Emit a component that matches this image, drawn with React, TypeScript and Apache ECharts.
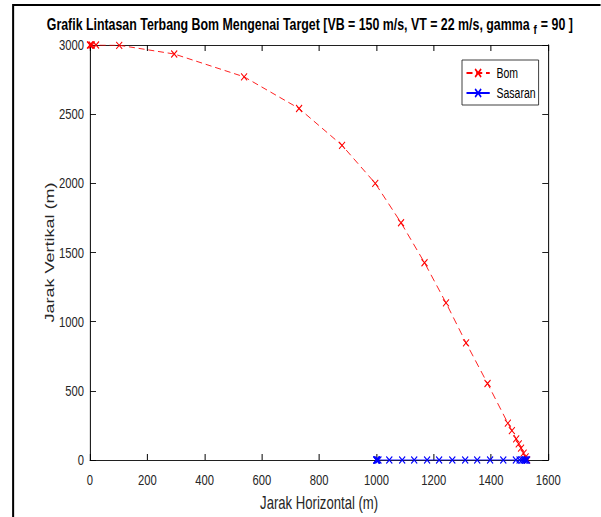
import React, { useEffect, useRef } from "react";
import * as echarts from "echarts";

// Bomb trajectory (horizontal distance, vertical distance) in metres
const bomX = [0, 1.5, 6, 21, 102, 294, 538, 730, 880, 996, 1086, 1168, 1243, 1313, 1388, 1459, 1473, 1488, 1497, 1505, 1514, 1521, 1526];
const bomY = [3000, 3000, 3000, 3000, 2998, 2935, 2770, 2541, 2275, 2000, 1715, 1426, 1136, 847, 553, 266, 213, 153, 117, 86, 50, 22, 0];

// Ground target positions
const sasaranX = [1000, 1000, 1001, 1003, 1007, 1045, 1090, 1132, 1177, 1219, 1265, 1310, 1352, 1397, 1443, 1487, 1500, 1508, 1514, 1519, 1522, 1526];
const sasaranY = [0, 0, 0, 0, 0, 0, 0, 0, 0, 0, 0, 0, 0, 0, 0, 0, 0, 0, 0, 0, 0, 0];

const xTicks = { min: 0, max: 1600, interval: 200 };
const yTicks = { min: 0, max: 3000, interval: 500 };

const SQUEEZE = 0.75;
const W = 801;
const H = 517;
const FONT = "'Liberation Sans', Arial, Helvetica, sans-serif";
const X_MARK = "path://M0,0L10,10M10,0L0,10";
const INK = "#262626";
const plain = (v: number) => String(v);

export default function App() {
  const ref = useRef<HTMLDivElement>(null);

  useEffect(() => {
    document.body.style.margin = "0";
    document.body.style.overflow = "hidden";
    const chart = echarts.init(ref.current!, null, { renderer: "svg" });

    const axisCommon = {
      type: "value" as const,
      splitLine: { show: false },
      axisLine: { show: true, onZero: false, lineStyle: { color: "#000", width: 1 } },
    };

    chart.setOption({
      animation: false,
      backgroundColor: "#fff",
      textStyle: { fontFamily: FONT },
      title: {
        text: "{m|Grafik Lintasan Terbang Bom Mengenai Target [VB = 150 m/s, VT = 22 m/s, gamma}{s|f}{m| = 90 ]}",
        left: 408,
        top: 11,
        textAlign: "center",
        textStyle: {
          rich: {
            m: { fontSize: 16.5, fontWeight: "bold", color: "#000", fontFamily: FONT, verticalAlign: "top", lineHeight: 19 },
            s: { fontSize: 13, fontWeight: "bold", color: "#000", fontFamily: FONT, verticalAlign: "top", lineHeight: 19, padding: [7, 1, 0, 5] },
          },
        },
      },
      graphic: [
        { type: "line", shape: { x1: 17.5, y1: 5, x2: W, y2: 5 }, style: { stroke: "#000", lineWidth: 2 } },
        { type: "line", shape: { x1: 17.5, y1: 4, x2: 17.5, y2: H }, style: { stroke: "#000", lineWidth: 2.7 } },
      ],
      legend: {
        data: ["Bom", "Sasaran"],
        orient: "vertical",
        left: 616,
        top: 60,
        padding: [6, 4, 5, 5],
        itemGap: 6,
        itemWidth: 31,
        itemHeight: 10,
        borderColor: INK,
        borderWidth: 1,
        backgroundColor: "#fff",
        textStyle: { fontSize: 14, color: "#000", fontFamily: FONT, padding: [0, 0, 0, 4] },
      },
      grid: { left: 120, right: 70, top: 45, bottom: 54 },
      xAxis: [
        {
          ...axisCommon,
          position: "bottom",
          ...xTicks,
          name: "Jarak Horizontal (m)",
          nameLocation: "middle",
          nameGap: 34,
          nameMoveOverlap: false,
          nameTextStyle: { fontSize: 17.5, color: INK, fontFamily: FONT },
          axisTick: { show: true, inside: true, length: 6, lineStyle: { color: "#000", width: 1.33 } },
          axisLabel: { fontSize: 15, color: INK, margin: 12, fontFamily: FONT, formatter: plain },
        },
        {
          ...axisCommon,
          position: "top",
          ...xTicks,
          axisTick: { show: true, inside: true, length: 6, lineStyle: { color: "#000", width: 1.33 } },
          axisLabel: { show: false },
        },
      ],
      yAxis: [
        {
          ...axisCommon,
          position: "left",
          ...yTicks,
          axisLine: { show: true, onZero: false, lineStyle: { color: "#000", width: 1.33 } },
          name: "Jarak Vertikal (m)",
          nameLocation: "middle",
          nameGap: 45,
          nameMoveOverlap: false,
          nameTextStyle: { fontSize: 18, color: INK, fontFamily: FONT },
          axisTick: { show: true, inside: true, length: 8, lineStyle: { color: "#000", width: 1 } },
          axisLabel: { fontSize: 15, color: INK, margin: 8, fontFamily: FONT, formatter: plain },
        },
        {
          ...axisCommon,
          position: "right",
          ...yTicks,
          axisLine: { show: true, onZero: false, lineStyle: { color: "#000", width: 1.33 } },
          axisTick: { show: true, inside: true, length: 8, lineStyle: { color: "#000", width: 1 } },
          axisLabel: { show: false },
        },
      ],
      series: [
        {
          name: "Bom",
          type: "line",
          data: bomX.map((x, i) => [x, bomY[i]]),
          symbol: X_MARK,
          symbolSize: [8, 7],
          lineStyle: { color: "#ff0000", width: 1, type: [8, 5] },
          itemStyle: { color: "#ff0000", borderColor: "#ff0000", borderWidth: 1.2 },
          z: 3,
        },
        {
          name: "Sasaran",
          type: "line",
          data: sasaranX.map((x, i) => [x, sasaranY[i]]),
          symbol: X_MARK,
          symbolSize: [8, 7],
          lineStyle: { color: "#0000ff", width: 1 },
          itemStyle: { color: "#0000ff", borderColor: "#0000ff", borderWidth: 1.2 },
          z: 4,
        },
      ],
    });

    return () => chart.dispose();
  }, []);

  return (
    <div
      ref={ref}
      style={{
        position: "absolute",
        left: 0,
        top: 0,
        width: W,
        height: H,
        transform: `scaleX(${SQUEEZE})`,
        transformOrigin: "0 0",
      }}
    />
  );
}
